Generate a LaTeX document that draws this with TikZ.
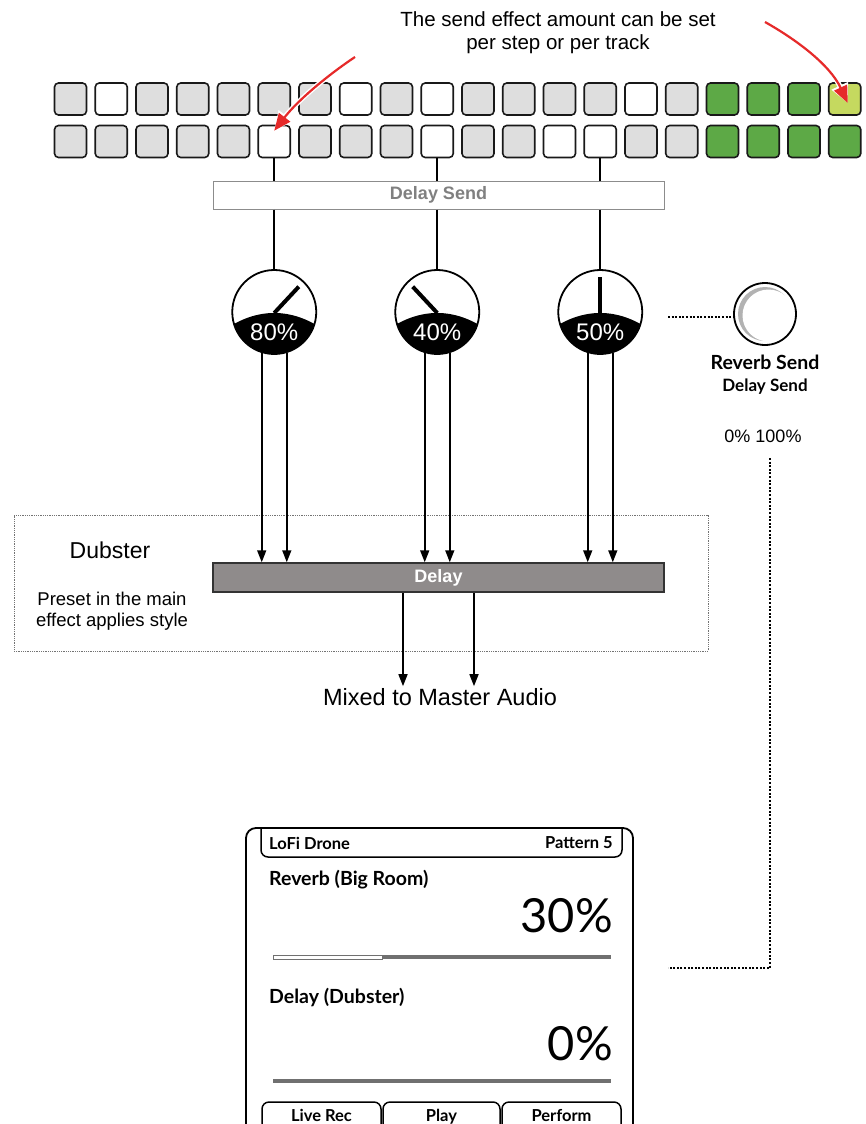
\documentclass[tikz,border=0pt]{standalone}
\usepackage{fontspec}
\setmainfont{Liberation Sans}
\newfontfamily\lcdfont{Lato}
\usetikzlibrary{arrows.meta,calc}
\definecolor{padgray}{HTML}{DEDEDE}
\definecolor{padgreen}{HTML}{5DA946}
\definecolor{padlime}{HTML}{C5D95F}
\definecolor{hintred}{HTML}{E62A2A}
\definecolor{fxgray}{HTML}{8F8B8B}
\definecolor{bargray}{HTML}{707070}
\tikzset{
  pad/.style={draw=black!90, line width=1.6pt, rounded corners=4pt, minimum size=32pt, inner sep=0pt},
  wire/.style={line width=1.6pt},
  flow/.style={line width=1.6pt, -{Triangle[length=12pt,width=9pt]}},
  hint/.style={draw=hintred, line width=2.2pt, -{Triangle[length=17pt,width=14pt]},
    preaction={draw=white, line width=5pt, -{Triangle[length=19pt,width=17pt]}}},
  dots/.style={line width=1.8pt, dash pattern=on 2pt off 1.6pt},
  knob/.style={circle, draw, line width=1.8pt, fill=white, minimum size=84pt, inner sep=0pt},
  lbl/.style={font=\fontsize{18.5}{21}\selectfont},
  lcd/.style={font=\lcdfont\bfseries\fontsize{16.5}{18}\selectfont, inner sep=0pt},
}
\begin{document}
\begin{tikzpicture}[x=1pt,y=-1pt]
\useasboundingbox (0,0) rectangle (865,1124);

\node[font=\fontsize{20.5}{23}\selectfont, align=center] (note) at (558,33)
  {The send effect amount can be set\\per step or per track};

\foreach \c [count=\i] in {padgray,white,padgray,padgray,padgray,padgray,padgray,white,padgray,white,
                           padgray,padgray,padgray,padgray,white,padgray,padgreen,padgreen,padgreen,padlime}
  \node[pad, fill=\c] (r1c\i) at ({70.5+40.75*(\i-1)},99) {};
\foreach \c [count=\i] in {padgray,padgray,padgray,padgray,padgray,white,padgray,padgray,padgray,white,
                           padgray,padgray,white,white,padgray,padgray,padgreen,padgreen,padgreen,padgreen}
  \node[pad, fill=\c] (r2c\i) at ({70.5+40.75*(\i-1)},141.5) {};

\node[draw=black!45, fill=white, line width=1pt, minimum width=451pt, minimum height=28pt,
  font=\fontsize{18}{18}\selectfont\bfseries, text=black!50] (send) at (438.5,195) {Delay Send};

\node[knob] (ka) at (r2c6 |- 0,312) {};
\node[knob] (kb) at (r2c10 |- 0,312) {};
\node[knob] (kc) at (r2c14 |- 0,312) {};

\foreach \p/\k in {r2c6/ka, r2c10/kb, r2c14/kc} {
  \draw[wire] (\p.south) -- (\p.south |- send.north);
  \draw[wire] (\p.south |- send.south) -- (\k.north);
}

\foreach \k/\ang/\pct in {ka/47/80, kb/133/40, kc/90/50} {
  \begin{scope}
    \clip (\k) circle (42pt);
    \fill ($(\k)+(-50,18)$) .. controls ($(\k)+(-17,-4.7)$) and ($(\k)+(17,-4.7)$) .. ($(\k)+(50,18)$)
      -- ++(0,40) -- ++(-100,0) -- cycle;
  \end{scope}
  \draw[line width=4pt] ($(\k)+(0,1)$) -- ++(\ang:36pt);
  \node[text=white, font=\fontsize{24}{24}\selectfont] (\k lbl) at ($(\k)+(0,20)$) {\pct\%};
}

\node[draw=black!55, densely dotted, line width=0.8pt, minimum width=694pt, minimum height=136pt] (dub) at (361,583) {};
\node[font=\fontsize{23}{25}\selectfont] (dubname) at (110,550) {Dubster};
\node[lbl, align=center] (dubnote) at (112,611) {Preset in the main\\effect applies style};

\node[draw=black!80, fill=fxgray, line width=1.5pt, minimum width=451pt, minimum height=29pt,
  font=\fontsize{18}{18}\selectfont\bfseries, text=white] (fx) at (438.5,577.5) {Delay};

\foreach \k in {ka, kb, kc} {
  \draw[flow] (\k.253) -- (\k.253 |- fx.north);
  \draw[flow] (\k.287) -- (\k.287 |- fx.north);
}

\node[font=\fontsize{23.5}{26}\selectfont, inner sep=2pt] (mix) at (440,697) {Mixed to Master Audio};
\coordinate (outa) at (403,0);
\coordinate (outb) at (474,0);
\draw[flow] (outa |- fx.south) -- (outa |- mix.north);
\draw[flow] (outb |- fx.south) -- (outb |- mix.north);

% send knob on the right
\coordinate (rkc) at (765,314);
\fill[black!30] (rkc) circle (27pt);
\fill[white] ($(rkc)+(3.5,1.5)$) circle (26pt);
\node[circle, draw, line width=1.8pt, minimum size=62pt, inner sep=0pt] (rk) at (rkc) {};
\coordinate (tapl) at (668,317);
\draw[dots] (tapl) -- (tapl -| rk.west);
\node[lcd, font=\lcdfont\bfseries\fontsize{19.5}{21}\selectfont] (rs) at (765,362) {Reverb Send};
\node[lcd, font=\lcdfont\bfseries\fontsize{17}{19}\selectfont] (ds) at (765,387) {Delay Send};
\node[font=\fontsize{18}{20}\selectfont] (rng) at (763,436) {0\% 100\%};
\coordinate (rtop) at (770,458);
\coordinate (scrtap) at (668,968);
\draw[dots] (rtop) |- (scrtap);

% screen
\draw[line width=1.8pt, rounded corners=10pt] (246,1124) -- (246,828) -- (633,828) -- (633,1124);
\draw[line width=1.5pt, rounded corners=7pt] (261,828) -- (261,857) -- (622,857) -- (622,828);
\node[lcd, anchor=west] (song) at (269,843) {LoFi Drone};
\node[lcd, anchor=east] (pat) at (613,843) {Pattern 5};
\node[lcd, anchor=west, font=\lcdfont\bfseries\fontsize{19.5}{21}\selectfont] (revname) at (269,880) {Reverb (Big Room)};
\node[lcd, anchor=east, font=\lcdfont\fontsize{47}{49}\selectfont] (revval) at (613,916) {30\%};
\draw[bargray, line width=4pt] (382,957) -- (611,957);
\draw[bargray, fill=white, line width=1pt] (273,955) rectangle (382,959);
\node[lcd, anchor=west, font=\lcdfont\bfseries\fontsize{19.5}{21}\selectfont] (dlyname) at (269,997) {Delay (Dubster)};
\node[lcd, anchor=east, font=\lcdfont\fontsize{47}{49}\selectfont] (dlyval) at (613,1044) {0\%};
\draw[bargray, line width=4pt] (273,1081) -- (611,1081);
\foreach \a/\b/\t/\nm in {262/381/Live Rec/tabrec, 383/500/Play/tabplay, 502/621/Perform/tabperf} {
  \draw[line width=1.5pt, rounded corners=7pt] (\a,1124) -- (\a,1102) -- (\b,1102) -- (\b,1124);
  \node[lcd, anchor=base] (\nm) at ({(\a+\b)/2},1121) {\t};
}

% red hints
\coordinate (hinta) at (355,57);
\coordinate (hintb) at (765,22);
\draw[hint] (hinta) .. controls (328,75) and (298,100) .. ([yshift=-6pt]r2c6.north);
\draw[hint] (hintb) .. controls (797,40) and (830,65) .. ([xshift=3pt,yshift=-4pt]r1c20.center);
\end{tikzpicture}
\end{document}
